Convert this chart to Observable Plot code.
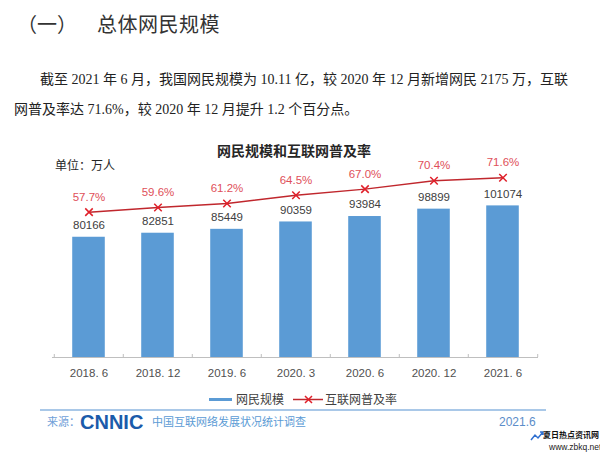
<!DOCTYPE html>
<html><head><meta charset="utf-8">
<script src="https://cdn.jsdelivr.net/npm/d3@7"></script>
<script src="https://cdn.jsdelivr.net/npm/@observablehq/plot@0.6"></script>
<style>
body{margin:0;width:600px;height:452px;position:relative;background:#fff;font-family:"Noto Sans CJK SC",sans-serif;overflow:hidden}
.abs{position:absolute;white-space:nowrap;line-height:1}
.para{font-family:"Liberation Serif","Noto Sans CJK SC",serif;font-size:14px;color:#222}
#chart{position:absolute;left:0;top:120px}
</style></head><body>
<div class="abs" style="left:17px;top:14px;font-size:20px;color:#333;">（一）<span style="margin-left:20px;letter-spacing:0.5px">总体网民规模</span></div>
<div class="abs para" style="left:40px;top:73px;width:515px;text-align:justify;text-align-last:justify;">截至 2021 年 6 月，我国网民规模为 10.11 亿，较 2020 年 12 月新增网民 2175 万，互联</div>
<div class="abs para" style="left:14px;top:103px;">网普及率达 71.6%，较 2020 年 12 月提升 1.2 个百分点。</div>
<div class="abs" style="left:217px;top:143px;font-size:14px;font-weight:bold;color:#262626;">网民规模和互联网普及率</div>
<div class="abs" style="left:55px;top:159px;font-size:12px;color:#262626;">单位：万人</div>
<div id="chart"></div>
<div class="abs" style="left:209px;top:393px;">
  <svg width="190" height="14" style="display:block">
    <line x1="0" x2="23" y1="6.5" y2="6.5" stroke="#5B9BD5" stroke-width="3"/>
    <line x1="84" x2="114" y1="6.5" y2="6.5" stroke="#C0272D" stroke-width="1.5"/>
    <path d="M96,3L103,10M103,3L96,10" stroke="#E0202A" stroke-width="1.5"/>
  </svg>
</div>
<div class="abs" style="left:236px;top:393px;font-size:12px;color:#404040;">网民规模</div>
<div class="abs" style="left:325px;top:393px;font-size:12px;color:#404040;">互联网普及率</div>
<div class="abs" style="left:40px;top:409px;width:506px;height:2px;background:#A9C8E8;"></div>
<div class="abs" style="left:47px;top:416px;font-size:11px;color:#6FA0D8;">来源：</div>
<div class="abs" style="left:80px;top:412px;font-family:'Liberation Sans',sans-serif;font-size:20px;font-weight:bold;color:#1B5BAA;">CNNIC</div>
<div class="abs" style="left:152px;top:416px;font-size:11px;color:#5B9BD5;">中国互联网络发展状况统计调查</div>
<div class="abs" style="left:499px;top:416px;font-family:'Liberation Sans',sans-serif;font-size:12px;color:#5B8DC9;">2021.6</div>
<div class="abs" style="left:530px;top:430px;">
  <svg width="14" height="12" style="display:block"><path d="M1,10L5,5L8,8L13,2M10,2L13,2L13,5" fill="none" stroke="#2F6FD0" stroke-width="1.5"/></svg>
</div>
<div class="abs" style="left:543px;top:431px;font-size:8px;font-weight:bold;color:#111;">夏日热点资讯网</div>
<div class="abs" style="left:549px;top:443px;font-family:'Liberation Sans',sans-serif;font-size:8.5px;color:#222;">www.zbkq.net</div>
<script>
const periods = ["2018. 6","2018. 12","2019. 6","2020. 3","2020. 6","2020. 12","2021. 6"];
const users = [80166, 82851, 85449, 90359, 93984, 98899, 101074];
const rates = [57.7, 59.6, 61.2, 64.5, 67.0, 70.4, 71.6];

const rows = periods.map((p, i) => ({period: p, users: users[i], rate: rates[i]}));
// secondary (percent) axis mapped onto the primary axis
const rateToY = r => r * 1650 + 1700;

const W = 600, ML = 52, MR = 62;
const step = (W - ML - MR) / periods.length;
const inset = (step - 33) / 2;

const chart = Plot.plot({
  width: W, height: 265,
  marginLeft: ML, marginRight: MR, marginTop: 27, marginBottom: 28,
  style: {background: "transparent", color: "#505050", fontFamily: "'Liberation Sans', 'Noto Sans CJK SC', sans-serif", fontSize: "11.5px", overflow: "visible"},
  x: {domain: periods, padding: 0, tickSize: 0, tickPadding: 11, label: null},
  y: {domain: [0, 140000], axis: null},
  marks: [
    Plot.barY(rows, {x: "period", y: "users", fill: "#5B9BD5", insetLeft: inset, insetRight: inset}),
    Plot.ruleY([0], {stroke: "#bfbfbf"}),
    Plot.ruleX(periods, {x: d => d, y1: 0, y2: 2000, dx: -step / 2, stroke: "#bfbfbf"}),
    Plot.ruleX(periods.slice(-1), {x: d => d, y1: 0, y2: 2000, dx: step / 2, stroke: "#bfbfbf"}),
    Plot.text(rows, {x: "period", y: "users", text: d => String(d.users), dy: -12, fill: "#404040", fontSize: 11.5}),
    Plot.lineY(rows, {x: "period", y: d => rateToY(d.rate), stroke: "#C0272D", strokeWidth: 1.5}),
    Plot.dot(rows, {x: "period", y: d => rateToY(d.rate), symbol: "times", r: 3.5, stroke: "#E0202A", strokeWidth: 1.5}),
    Plot.text(rows, {x: "period", y: d => rateToY(d.rate), text: d => d3.format(".1f")(d.rate) + "%", dy: -15, fill: "#E0505A", fontSize: 11.5})
  ]
});
document.getElementById("chart").appendChild(chart);
</script>
</body></html>
